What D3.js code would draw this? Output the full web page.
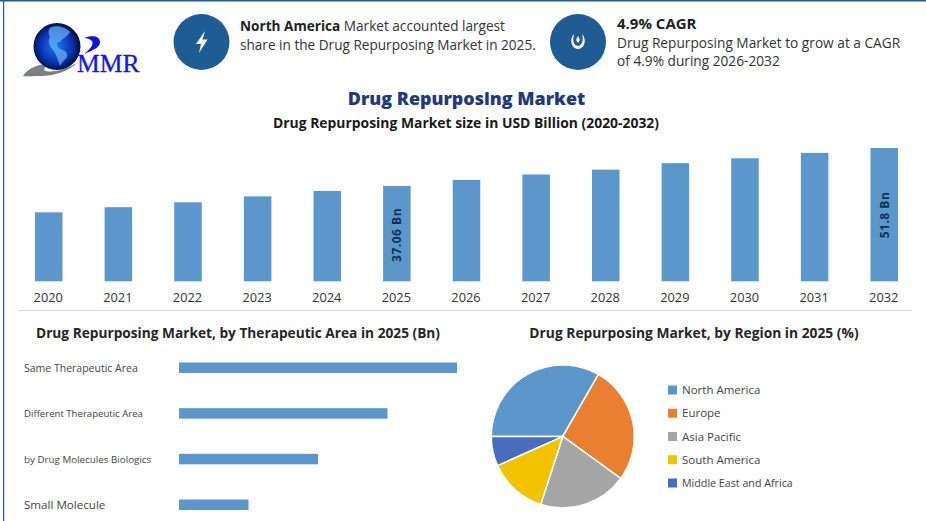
<!DOCTYPE html>
<html lang="en">
<head>
<meta charset="utf-8">
<title>Drug Repurposing Market</title>
<script src="https://cdn.jsdelivr.net/npm/d3@7"></script>
<style>
  html, body { margin: 0; padding: 0; background: #fff; }
  svg { display: block; }
  text { font-family: "Open Sans", "Noto Sans", sans-serif; }
</style>
</head>
<body>
<svg id="chart" width="926" height="521"></svg>
<script>
// market size, USD billion
var years = ["2020","2021","2022","2023","2024","2025","2026","2027","2028","2029","2030","2031","2032"];
var marketSize = [26.8, 28.8, 30.7, 33.0, 35.1, 37.06, 39.4, 41.5, 43.4, 45.9, 47.8, 49.9, 51.8];
var sizeLabels = {"2025": "37.06 Bn", "2032": "51.8 Bn"};

// therapeutic area, no axis in the picture so these are relative
var areas = ["Same Therapeutic Area", "Different Therapeutic Area", "by Drug Molecules Biologics", "Small Molecule"];
var areaValues = [4, 3, 2, 1];
var areaFontSizes = [10.5, 9.6, 9.8, 11.6];

// region share, %
var regions = ["North America", "Europe", "Asia Pacific", "South America", "Middle East and Africa"];
var regionShare = [33.3, 26.7, 20, 13.3, 6.7];
var regionColors = ["#5b97cb", "#e97f30", "#a5a5a5", "#f2c100", "#4a6cbd"];
var legendFontSizes = [11.5, 11.5, 11.5, 11.5, 10.7];

var BAR = "#5b97cb", DARK = "#1f5c94";
var svg = d3.select("#chart");

// frame lines
svg.append("rect").attr("width", 926).attr("height", 1.5).attr("fill", DARK);
svg.append("rect").attr("x", 3).attr("width", 1.2).attr("height", 521).attr("fill", DARK);
svg.append("rect").attr("x", 19).attr("y", 310).attr("width", 893).attr("height", 1).attr("fill", "#d6d6d6");

function label(x, y, str, size, weight, color, anchor) {
  return svg.append("text").attr("x", x).attr("y", y).text(str)
    .attr("font-size", size).attr("font-weight", weight || 400)
    .attr("fill", color || "#333").attr("text-anchor", anchor || "start");
}

// logo
var defs = svg.append("defs");
var grad = defs.append("radialGradient").attr("id", "globe").attr("cx", "48%").attr("cy", "50%").attr("r", "55%");
grad.append("stop").attr("offset", "0%").attr("stop-color", "#1f78ee");
grad.append("stop").attr("offset", "60%").attr("stop-color", "#0a35b8");
grad.append("stop").attr("offset", "100%").attr("stop-color", "#020622");
svg.append("path").attr("d", "M23,76 C27,68 42,63 52,63 C42,68 40,73 56,71 C66,69 72,66 78,62 C70,71 52,77 38,76 C32,76 27,77 23,76Z").attr("fill", "#7d7f86");
svg.append("circle").attr("cx", 57).attr("cy", 46.5).attr("r", 23.5).attr("fill", "url(#globe)");
svg.append("path").attr("d", "M50,28 C56,24 66,27 70,32 C68,37 62,38 60,42 C56,42 56,46 60,49 C64,50 68,52 67,57 C64,61 62,62 60,66 C58,60 56,55 54,51 C50,47 47,42 50,37 C48,33 48,30 50,28Z").attr("fill", "#6bb5f5").attr("opacity", 0.7);
svg.append("path").attr("d", "M84,38 C92,35 100,36 100,42 C100,47 94,50 84,54 C90,49 94,45 92,41 C90,39 87,38 84,38Z").attr("fill", "#1414d8");
label(77, 72, "MMR", 25.6, 400, "#1616e0").style("font-family", "'Liberation Serif', serif").attr("stroke", "#1616e0").attr("stroke-width", 0.3);

// header circles
svg.append("circle").attr("cx", 201.5).attr("cy", 42).attr("r", 28).attr("fill", DARK);
svg.append("path").attr("d", "M205,31 L196,44 L201,44 L199,53 L207.5,39.5 L202.5,39.5Z").attr("fill", "#fff");
svg.append("circle").attr("cx", 578).attr("cy", 42).attr("r", 28).attr("fill", DARK);
svg.append("path").attr("d", "M574,34 C569,39 571,48.5 578,49 C585,48.5 587,39 582,34 C583.5,39 583,45.5 578,46 C573,45.5 572.5,39 574,34Z M578,36 L580,40 L578,43 L576,40Z").attr("fill", "#fff");

// header text
var h1 = label(240, 31, "", 13.6, 400, "#333");
h1.append("tspan").attr("font-weight", 700).attr("fill", "#222").text("North America");
h1.append("tspan").text(" Market accounted largest");
label(240, 49.5, "share in the Drug Repurposing Market in 2025.", 13.6);
label(617, 29, "4.9% CAGR", 15, 700, "#222");
label(617, 48, "Drug Repurposing Market to grow at a CAGR", 13.7);
label(617, 66, "of 4.9% during 2026-2032", 13.7);

// titles
label(466.5, 105, "Drug Repurposing Market", 17.9, 800, "#1f3a7a", "middle");
label(466, 128, "Drug Repurposing Market size in USD Billion (2020-2032)", 13.9, 700, "#1a1a1a", "middle");
label(238, 338, "Drug Repurposing Market, by Therapeutic Area in 2025 (Bn)", 13.7, 700, "#262626", "middle");
label(694, 338, "Drug Repurposing Market, by Region in 2025 (%)", 13.8, 700, "#262626", "middle");

// top column chart
var x = d3.scaleBand().domain(years).range([35, 898]).paddingInner(0.605).paddingOuter(0);
var y = d3.scaleLinear().domain([0, 51.8]).range([281.3, 148]);

svg.append("g").selectAll("rect").data(years).enter().append("rect")
  .attr("x", function(d) { return x(d); })
  .attr("y", function(d, i) { return y(marketSize[i]); })
  .attr("width", x.bandwidth())
  .attr("height", function(d, i) { return y(0) - y(marketSize[i]); })
  .attr("fill", BAR);

var xAxis = svg.append("g").attr("transform", "translate(-0.5,290)").call(d3.axisBottom(x).tickSize(0).tickPadding(3));
xAxis.select(".domain").remove();
xAxis.selectAll("text").attr("font-size", 12.8).attr("fill", "#333").style("font-family", "'Open Sans', sans-serif");

svg.append("g").selectAll("text").data(Object.keys(sizeLabels)).enter().append("text")
  .attr("transform", function(d) {
    var i = years.indexOf(d);
    var mid = y(marketSize[i]) + (d == "2025" ? 49 : 67);
    return "translate(" + (x(d) + x.bandwidth() / 2 + 4.5) + "," + mid + ") rotate(-90)";
  })
  .attr("text-anchor", "middle").attr("font-size", 12).attr("font-weight", 700)
  .attr("letter-spacing", 0.5).attr("fill", "#12305a")
  .text(function(d) { return sizeLabels[d]; });

// therapeutic area bars
var ax = d3.scaleLinear().domain([0, 4]).range([179, 457]);
var ay = d3.scaleBand().domain(areas).range([362.5, 510]).paddingInner(0.77).paddingOuter(0);

svg.append("g").selectAll("rect").data(areas).enter().append("rect")
  .attr("x", ax(0))
  .attr("y", function(d) { return ay(d); })
  .attr("width", function(d, i) { return ax(areaValues[i]) - ax(0); })
  .attr("height", ay.bandwidth())
  .attr("fill", BAR);

var yAxis = svg.append("g").attr("transform", "translate(24,0.5)").call(d3.axisRight(ay).tickSize(0).tickPadding(0));
yAxis.select(".domain").remove();
yAxis.selectAll("text")
  .attr("font-size", function(d, i) { return areaFontSizes[i]; })
  .attr("fill", "#444").style("font-family", "'Open Sans', sans-serif");

// region pie
var pie = d3.pie().sort(null).startAngle(-Math.PI / 2).endAngle(Math.PI * 1.5);
var arc = d3.arc().innerRadius(0).outerRadius(71.5);
svg.append("g").attr("transform", "translate(562.8,436.4)")
  .selectAll("path").data(pie(regionShare)).enter().append("path")
  .attr("d", arc)
  .attr("fill", function(d, i) { return regionColors[i]; })
  .attr("stroke", "#fff").attr("stroke-width", 1.5);

// legend
var ly = d3.scalePoint().domain(regions).range([390, 483]);
var legend = svg.append("g").selectAll("g").data(regions).enter().append("g")
  .attr("transform", function(d) { return "translate(668," + ly(d) + ")"; });
legend.append("rect").attr("y", -4.5).attr("width", 9).attr("height", 9)
  .attr("fill", function(d, i) { return regionColors[i]; });
legend.append("text").attr("x", 14).attr("y", 4.2)
  .attr("font-size", function(d, i) { return legendFontSizes[i]; }).attr("fill", "#444")
  .text(function(d) { return d; });
</script>
</body>
</html>
